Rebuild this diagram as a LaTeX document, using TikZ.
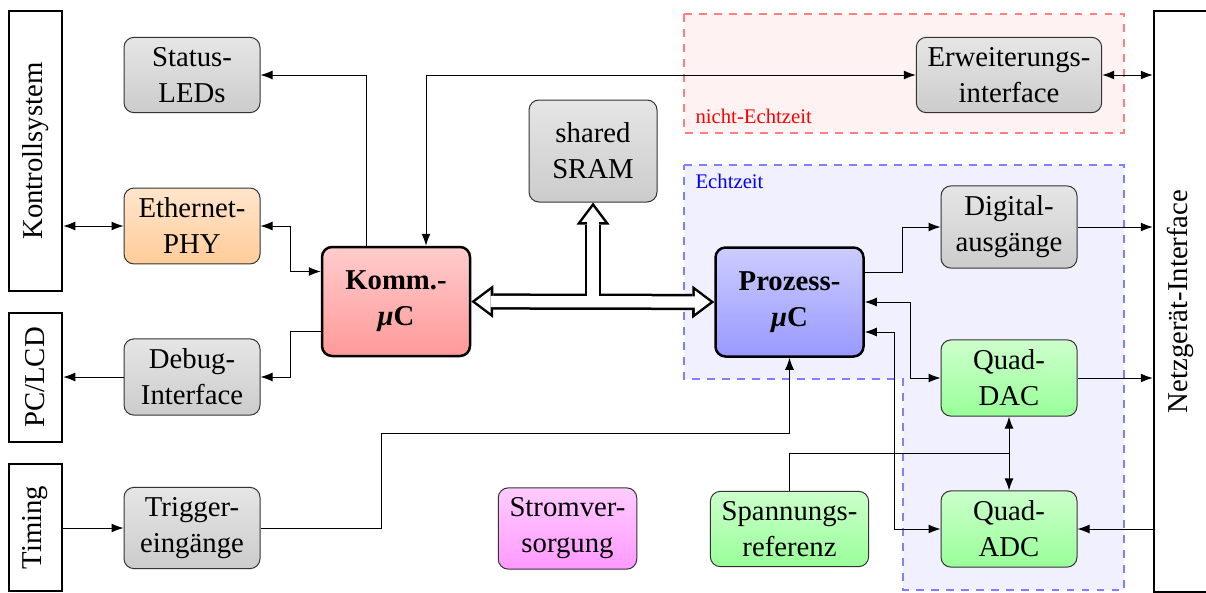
\documentclass[tikz,border=0pt]{standalone}
\usepackage{fontspec}
\setmainfont{Liberation Serif}
\usepackage{graphicx}
\usetikzlibrary{arrows.meta,calc}

\tikzset{
  box/.style={draw=black!80, rounded corners=4pt, align=center,
    inner xsep=4.5pt, inner ysep=4pt, minimum width=54.4pt,
    font=\fontsize{11.5pt}{14.4pt}\selectfont},
  graybox/.style={box, top color=gray!20, bottom color=gray!40},
  orangebox/.style={box, top color=orange!20, bottom color=orange!40},
  greenbox/.style={box, top color=green!20, bottom color=green!40},
  pinkbox/.style={box, top color=magenta!20, bottom color=magenta!40},
  mcbox/.style={box, draw=black, line width=1pt, minimum width=59.2pt,
    minimum height=43.6pt, font=\fontsize{11.5pt}{14.4pt}\selectfont\bfseries},
  bar/.style={draw, line width=1pt, inner sep=0pt, minimum width=21.2pt,
    font=\fontsize{11.5pt}{14.4pt}\selectfont},
  zonelabel/.style={inner sep=0pt, font=\fontsize{8.3pt}{10pt}\selectfont},
  bigtip/.tip={Triangle[length=8.8pt, width=13.2pt, line width=0pt]},
  smalltip/.tip={Triangle[length=6.1pt, width=9.2pt, line width=0pt]},
  busline/.style={line width=6.5pt},
  buscore/.style={white, line width=4.5pt},
}

\begin{document}
\begin{tikzpicture}[x=0.4pt, y=-0.4pt, >=Latex]
  \useasboundingbox (0,0) rectangle (1206,593);

  % Bereiche
  \draw[dashed, semithick, draw=red!50, fill=red!5] (684,14) rectangle (1124,133);
  \draw[dashed, semithick, draw=blue!50, fill=blue!6]
    (684,165) -- (1124,165) -- (1124,590) -- (903,590) -- (903,379) -- (684,379) -- cycle;
  \node[zonelabel, anchor=base west, text=red] (nrtlabel) at (695,123) {nicht-Echtzeit};
  \node[zonelabel, anchor=base west, text=blue] (rtlabel) at (695,188) {Echtzeit};

  % Schnittstellen
  \node[bar, minimum height=112pt] (kontr) at (35.5,151) {\rotatebox{90}{Kontrollsystem}};
  \node[bar, minimum height=51.6pt] (pc) at (35.5,377.5) {\rotatebox{90}{PC/LCD}};
  \node[bar, minimum height=50.8pt] (timing) at (35.5,527.5) {\rotatebox{90}{Timing}};
  \node[bar, minimum height=232.4pt] (netz) at (1180.5,301.5) {\rotatebox{90}{Netzgerät-Interface}};

  % Bausteine
  \node[graybox] (status) at (192,75) {Status-\\LEDs};
  \node[orangebox] (eth) at (192,226) {Ethernet-\\PHY};
  \node[graybox] (debug) at (192,377) {Debug-\\Interface};
  \node[graybox] (trig) at (192,528) {Trigger-\\eingänge};
  \node[mcbox, top color=red!20, bottom color=red!40] (komm) at (396,301.5) {Komm.-\\{\itshape μ}C};
  \node[graybox, minimum width=51.2pt, minimum height=40.8pt] (sram) at (593,151) {shared\\SRAM};
  \node[mcbox, top color=blue!20, bottom color=blue!40] (proz) at (789.5,302) {Prozess-\\{\itshape μ}C};
  \node[pinkbox] (strom) at (567.5,528.5) {Stromver-\\sorgung};
  \node[greenbox] (spann) at (789.5,529) {Spannungs-\\referenz};
  \node[graybox] (erw) at (1009,75) {Erweiterungs-\\interface};
  \node[graybox] (dig) at (1009,227) {Digital-\\ausgänge};
  \node[greenbox] (dac) at (1009,378) {Quad-\\DAC};
  \node[greenbox] (adc) at (1009,529) {Quad-\\ADC};

  % Verbindungen
  \draw[<->] (eth.west -| kontr.east) -- (eth.west);  % Kontrollsystem -- Ethernet
  \draw[->] (debug.west) -- (debug.west -| pc.east);  % Debug -- PC
  \draw[->] (trig.west -| timing.east) -- (trig.west);  % Timing -- Trigger
  \draw[->] ([xshift=-12pt]komm.north) |- (status.east);  % Komm -- Status
  \draw[<->] ([xshift=12pt]komm.north) |- (erw.west);  % Komm -- Erweiterung
  \draw[<->] (eth.east) -- ++(30,0) |- ([yshift=12pt]komm.west);  % Ethernet -- Komm
  \draw[->] ([yshift=-12pt]komm.west) -- ++(-30,0) |- (debug.east);  % Komm -- Debug
  \draw[->] (trig.east) -- ++(121,0) -- ++(0,-95) -| (proz.south);  % Trigger -- Prozess
  \draw[->] ([yshift=12pt]proz.east) -- ++(38,0) |- (dig.west);  % Prozess -- Digital
  \draw[<->] (proz.east) -- ++(46,0) |- (dac.west);  % Prozess -- DAC
  \draw[<->] ([yshift=-12pt]proz.east) -- ++(30,0) |- (adc.west);  % Prozess -- ADC
  \coordinate (refjoin) at ($(dac.south)!0.5!(adc.north)$);
  \draw (spann.north) |- (refjoin);  % Referenz
  \draw[->] (refjoin) -- (dac.south);
  \draw[->] (refjoin) -- (adc.north);
  \draw[<->] (erw.east) -- (erw.east -| netz.west);  % Erweiterung -- Netzgeraet
  \draw[->] (dig.east) -- (dig.east -| netz.west);  % Digital -- Netzgeraet
  \draw[->] (dac.east) -- (dac.east -| netz.west);  % DAC -- Netzgeraet
  \draw[->] (adc.east -| netz.west) -- (adc.east);  % Netzgeraet -- ADC

  % shared SRAM Bus
  \coordinate (sramjoin) at (sram.south |- komm.east);
  \draw[busline, bigtip-bigtip] (komm.east) -- (proz.west);
  \draw[busline, -bigtip] (sramjoin) -- (sram.south);
  \draw[buscore, smalltip-smalltip, shorten <=1.67pt, shorten >=1.67pt] (komm.east) -- (proz.west);
  \draw[buscore, -smalltip, shorten >=1.67pt] (sramjoin) -- (sram.south);
\end{tikzpicture}
\end{document}
